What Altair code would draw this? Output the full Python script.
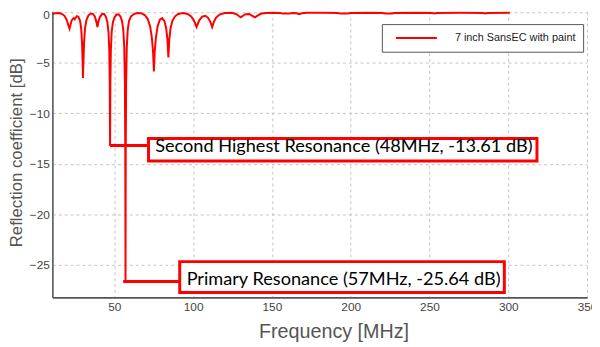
import altair as alt
import pandas as pd

series_name = "7 inch SansEC with paint"

freq = [10.7, 12.5, 15, 17, 18.5, 19.8, 20.8, 21.6, 22.3, 22.9, 23.6, 24.3, 24.9, 25.4,
        26.3, 27.3, 28.3, 29.0, 29.5, 29.9, 30.1, 30.4, 30.8, 31.4, 32.3, 33.5, 35, 36.5,
        37.6, 38.5, 39.3, 40.0, 41.0, 42.3, 43.5, 44.6, 45.6, 46.3, 46.8, 47.1, 47.3, 47.5,
        47.8, 48.3, 49.1, 50.2, 51.5, 52.7, 53.9, 54.9, 55.7, 56.3, 56.7, 56.95, 57.1, 57.25,
        57.5, 57.9, 58.5, 59.3, 60.5, 62.3, 64.5, 67, 69.3, 71.2, 72.7, 73.8, 74.6, 75.1,
        75.6, 76.4, 77.5, 78.9, 80.4, 81.8, 82.9, 83.7, 84.3, 84.9, 85.7, 86.8, 88.4, 90.5,
        93.5, 96.5, 98.8, 100.5, 101.5, 102.2, 102.9, 104, 105.8, 107.8, 109.6, 111, 112.1,
        113.1, 114.6, 116.8, 120, 124.5, 127.2, 129, 130.2, 131.4, 133.2, 135.6, 137.6,
        139.2, 140.7, 142.8, 146, 151, 155, 157, 161, 163.5, 165.6, 167.3, 169, 172, 184,
        191.5, 193.6, 197.8, 200, 212, 220, 222, 226, 228, 242, 251.5, 253, 254.5, 270,
        284, 285.4, 287, 301]
refl = [-0.2, -0.12, -0.1, -0.2, -0.4, -0.8, -1.3, -1.66, -1.2, -0.85, -0.68, -0.6, -0.72, -0.6,
        -0.4, -0.5, -0.9, -1.7, -3.0, -5.0, -6.53, -5.0, -3.0, -1.6, -0.8, -0.35, -0.15, -0.2,
        -0.45, -0.9, -1.5, -0.9, -0.45, -0.2, -0.2, -0.45, -1.0, -2.0, -3.8, -7.0, -13.25, -7.0,
        -3.8, -2.0, -1.0, -0.5, -0.25, -0.22, -0.45, -0.9, -1.8, -3.5, -7.0, -14.0, -26.67, -14.0,
        -7.0, -3.5, -1.8, -0.9, -0.45, -0.2, -0.1, -0.12, -0.3, -0.7, -1.4, -2.5, -4.0, -5.88,
        -4.0, -2.5, -1.4, -0.75, -0.6, -0.9, -1.6, -2.7, -4.5, -2.7, -1.6, -0.9, -0.45, -0.2,
        -0.1, -0.2, -0.45, -0.85, -1.2, -1.49, -1.2, -0.8, -0.45, -0.38, -0.6, -1.0, -1.49,
        -1.0, -0.55, -0.25, -0.1, -0.08, -0.2, -0.4, -0.52, -0.4, -0.22, -0.2, -0.38,
        -0.52, -0.38, -0.18, -0.1, -0.08, -0.1, -0.15, -0.15, -0.1, -0.13, -0.22, -0.13, -0.08, -0.08,
        -0.1, -0.15, -0.15, -0.1, -0.08, -0.1, -0.15, -0.15, -0.1, -0.08, -0.1, -0.15, -0.1, -0.08,
        -0.1, -0.15, -0.1, -0.08]

x_ticks = [50, 100, 150, 200, 250, 300, 350]
y_ticks = [-25, -20, -15, -10, -5, 0]

ann_text = ["Second Highest Resonance (48MHz, -13.61 dB)", "Primary Resonance (57MHz, -25.64 dB)"]
ann_dip_f = [47.3, 55.6]
ann_dip_db = [-13.2, -26.64]
box_f1 = [71.7, 91.5]
box_f2 = [318.2, 297.5]
box_db1 = [-12.5, -24.67]
box_db2 = [-14.72, -27.71]
text_f = [75.9, 95.9]
text_db = [-13.3, -26.35]

curve = pd.DataFrame({"freq": freq, "refl": refl, "series": [series_name] * len(freq)})
ann = pd.DataFrame({
    "text": ann_text, "dip_f": ann_dip_f, "dip_db": ann_dip_db,
    "bf1": box_f1, "bf2": box_f2, "bd1": box_db1, "bd2": box_db2,
    "tf": text_f, "td": text_db,
})

xscale = alt.Scale(domain=[10.7, 350], nice=False, zero=False)
yscale = alt.Scale(domain=[-28.2, 0.07], nice=False, zero=False)

x_axis = alt.Axis(values=x_ticks, title="Frequency [MHz]", titleFontSize=20,
                  titleX=285, titleY=35, titleBaseline="middle", titleAlign="center",
                  labelFlush=False, labelPadding=4)
y_axis = alt.Axis(values=y_ticks, title="Reflection coefficient [dB]", titleFontSize=17,
                  titleX=-36, titleY=143, titleBaseline="middle", titleAlign="center",
                  titleAngle=270, labelPadding=3, labelFlush=True, labelFlushOffset=2)

line = alt.Chart(curve).mark_line(strokeWidth=2, clip=True).encode(
    x=alt.X("freq:Q", scale=xscale, axis=x_axis),
    y=alt.Y("refl:Q", scale=yscale, axis=y_axis),
    color=alt.Color("series:N", scale=alt.Scale(domain=[series_name], range=["#ff0000"]),
                    legend=alt.Legend(title=None, orient="none", legendX=334, legendY=13,
                                      padding=7, clipHeight=14, symbolType="stroke",
                                      symbolSize=1730, symbolStrokeWidth=2, symbolOffset=6,
                                      labelOffset=17, labelFontSize=11, labelColor="#222",
                                      labelFont="Liberation Sans",
                                      strokeColor="#555", fillColor="white", cornerRadius=0)),
)

connectors = alt.Chart(ann).mark_rule(color="#ff0000", strokeWidth=3).encode(
    x=alt.X("dip_f:Q", scale=xscale, axis=x_axis), x2="bf1:Q",
    y=alt.Y("dip_db:Q", scale=yscale, axis=y_axis),
)

boxes = alt.Chart(ann).mark_rect(fill="white", stroke="#ff0000", strokeWidth=3).encode(
    x=alt.X("bf1:Q", scale=xscale, axis=x_axis), x2="bf2:Q",
    y=alt.Y("bd1:Q", scale=yscale, axis=y_axis), y2="bd2:Q",
)

texts = alt.Chart(ann).mark_text(align="left", baseline="middle", font="Lato",
                                 fontSize=18.4, color="#000000").encode(
    x=alt.X("tf:Q", scale=xscale, axis=x_axis),
    y=alt.Y("td:Q", scale=yscale, axis=y_axis),
    text="text:N",
)

chart = alt.layer(line, connectors, boxes, texts).properties(
    width=542, height=290,
    padding={"left": 45, "top": 1, "right": 5, "bottom": 48},
    autosize=alt.AutoSizeParams(type="none"),
).configure_view(strokeOpacity=0).configure_axis(
    grid=True, gridDash=[3, 3], gridColor="#c4c4c4", gridWidth=1,
    ticks=False, domainColor="#555555", domainWidth=1.6,
    labelFont="Liberation Sans", labelFontSize=12, labelColor="#444444",
    titleFont="Liberation Sans", titleFontWeight="normal", titleColor="#555555",
)

chart.save("out.html", embed_options={"renderer": "svg", "actions": False})
